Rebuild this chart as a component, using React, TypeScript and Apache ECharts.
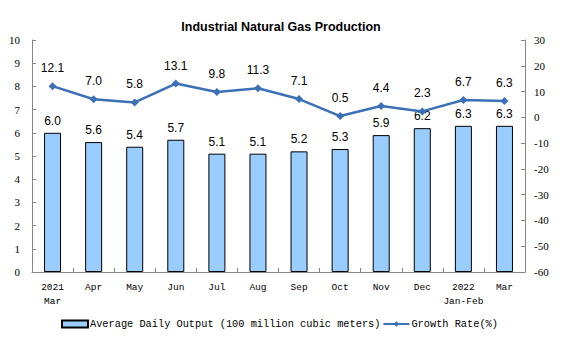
import React, { useEffect, useRef } from "react";
import * as echarts from "echarts";

const categories = ["2021\nMar", "Apr", "May", "Jun", "Jul", "Aug", "Sep", "Oct", "Nov", "Dec", "2022\nJan-Feb", "Mar"];
const dailyOutput = [6.0, 5.6, 5.4, 5.7, 5.1, 5.1, 5.2, 5.3, 5.9, 6.2, 6.3, 6.3];
const growthRate = [12.1, 7.0, 5.8, 13.1, 9.8, 11.3, 7.1, 0.5, 4.4, 2.3, 6.7, 6.3];
const barName = "Average Daily Output (100 million cubic meters)";
const lineName = "Growth Rate(%)";

export default function App() {
  const ref = useRef<HTMLDivElement>(null);
  useEffect(() => {
    const chart = echarts.init(ref.current!, null, { renderer: "svg" });
    const axisLine = { show: true, lineStyle: { color: "#868686", width: 1 } };
    chart.setOption({
      animation: false,
      backgroundColor: "#fff",
      title: {
        text: "Industrial Natural Gas Production",
        left: "center",
        top: 15,
        itemGap: 0,
        textStyle: { fontFamily: "Liberation Sans", fontWeight: "bold", fontSize: 12.5, color: "#000" },
      },
      grid: { left: 32, right: 37, top: 40, bottom: 86 },
      legend: {
        bottom: 24,
        left: 56,
        itemGap: 2,
        itemWidth: 26,
        itemHeight: 7,
        textStyle: { fontFamily: "Liberation Mono", fontSize: 10.3, color: "#000", padding: [0, 0, 0, -3] },
        data: [
          { name: barName, icon: "rect" },
          { name: lineName },
        ],
      },
      xAxis: {
        type: "category",
        data: categories,
        axisLine,
        axisTick: { show: true, inside: true, length: 4, lineStyle: { color: "#868686" } },
        axisLabel: { fontFamily: "Liberation Mono", fontSize: 9.5, color: "#000", lineHeight: 14, margin: 8, interval: 0 },
      },
      yAxis: [
        {
          type: "value",
          min: 0,
          max: 10,
          interval: 1,
          axisLine,
          axisTick: { show: true, inside: true, length: 4, lineStyle: { color: "#868686" } },
          splitLine: { show: false },
          axisLabel: { fontFamily: "Liberation Serif", fontSize: 11, color: "#000", margin: 12 },
        },
        {
          type: "value",
          min: -60,
          max: 30,
          interval: 10,
          axisLine,
          axisTick: { show: true, inside: true, length: 4, lineStyle: { color: "#868686" } },
          splitLine: { show: false },
          axisLabel: { fontFamily: "Liberation Serif", fontSize: 11, color: "#000", margin: 9 },
        },
      ],
      series: [
        {
          name: barName,
          type: "bar",
          data: dailyOutput,
          barWidth: 17,
          itemStyle: { color: "#99CCFF", borderColor: "#000", borderWidth: 1 },
          label: {
            show: true,
            position: "top",
            formatter: (p: any) => p.value.toFixed(1),
            fontFamily: "Liberation Sans",
            fontSize: 12,
            color: "#000",
            distance: 6,
          },
        },
        {
          name: lineName,
          type: "line",
          yAxisIndex: 1,
          data: growthRate,
          symbol: "diamond",
          symbolSize: 8,
          lineStyle: { color: "#3B6FB6", width: 2.5 },
          itemStyle: { color: "#3B6FB6" },
          label: {
            show: true,
            position: "top",
            formatter: (p: any) => p.value.toFixed(1),
            fontFamily: "Liberation Sans",
            fontSize: 12,
            color: "#000",
            distance: 8,
          },
        },
      ],
    });
    return () => chart.dispose();
  }, []);
  return <div ref={ref} style={{ width: 562, height: 358, position: "absolute", left: 0, top: 0 }} />;
}
